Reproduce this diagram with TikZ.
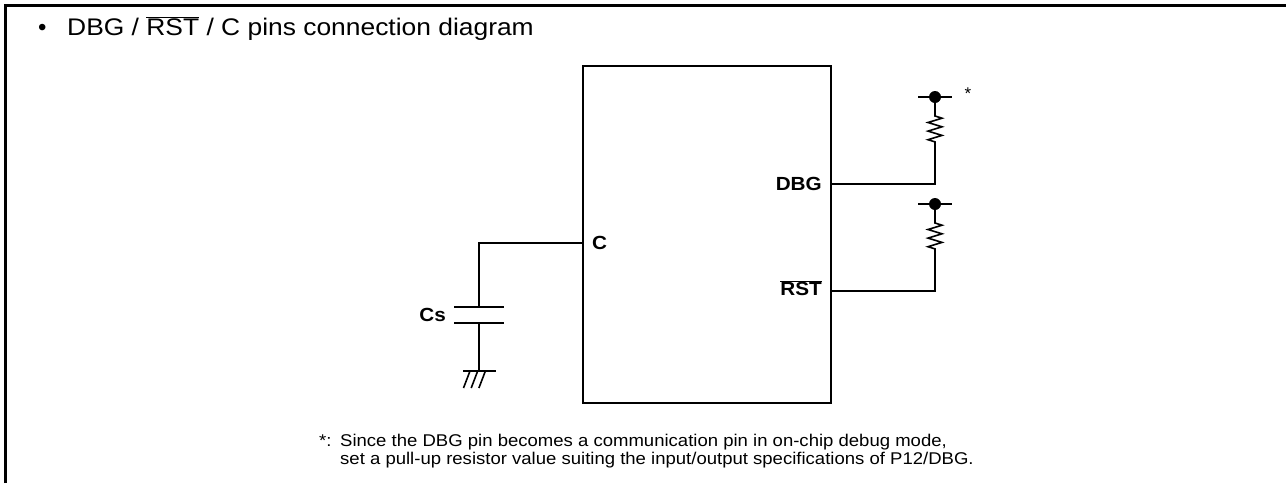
\documentclass[tikz,border=0pt]{standalone}
\usepackage{fontspec}
\usepackage{graphicx}
\setmainfont{Liberation Sans}
\newcommand{\wide}[1]{\scalebox{1.09}[1]{#1}}
\begin{document}
\begin{tikzpicture}[x=1pt,y=-1pt,
  wire/.style={line width=1.6pt},
  frame/.style={line width=2.5pt},
  lbl/.style={font=\fontsize{19}{22}\selectfont\bfseries, inner sep=0pt},
  note/.style={font=\fontsize{17}{19}\selectfont, inner sep=0pt, anchor=base west},
  pics/pullup/.style={code={
    \fill (0,0) circle (6);
    \draw[wire] (-17,0) -- (17,0);
    \draw[wire] (0,0) -- (0,19) -- ++(7,2.2) -- ++(-14,4.3) -- ++(14,4.3) -- ++(-14,4.3)
       -- ++(14,4.3) -- ++(-14,4.3) -- ++(7,2.2) -- (0,45);
    \coordinate (-bot) at (0,45);
  }}]
\useasboundingbox (0,0) rectangle (1286,483);
\draw[frame] (5.5,483) -- (5.5,5.5) -- (1286,5.5);
% title
\node[anchor=base west, inner sep=0pt, font=\fontsize{24}{28}\selectfont] (bul) at (38,35) {\textbullet};
\node[anchor=base west, inner sep=0pt, font=\fontsize{24}{28}\selectfont] (title) at (67,35) {\scalebox{1.1}[1]{DBG / $\overline{\mbox{RST}}$ / C pins connection diagram}};
% chip
\node[draw, wire, anchor=north west, minimum width=248pt, minimum height=337pt, inner sep=0pt, outer sep=0pt] (chip) at (583,66) {};
\coordinate (pC) at (583,243);
\coordinate (pDBG) at (831,184);
\coordinate (pRST) at (831,291);
\node[lbl, anchor=west] (lC) at (592,243) {\wide{C}};
\node[lbl, anchor=east] (lDBG) at (822,184) {\wide{DBG}};
\node[lbl, anchor=east] (lRST) at (822,288) {\wide{$\overline{\mbox{RST}}$}};
% capacitor
\coordinate (capT) at (479,307);
\coordinate (capB) at (479,323);
\coordinate (gnd) at (479,371);
\draw[wire] (pC) -| (capT);
\draw[wire] (454,307) -- (504,307);
\draw[wire] (454,323) -- (504,323);
\draw[wire] (capB) -- (gnd);
\draw[wire] (463,371) -- (496,371);
\foreach \i in {0,1,2} \draw[wire] (463.5+7.7*\i,388) -- (470+7.7*\i,371);
\node[lbl, anchor=east] (lCs) at (446,315) {\wide{Cs}};
% pull-ups
\pic (ra) at (935,97) {pullup};
\pic (rb) at (935,204) {pullup};
\draw[wire] (pDBG) -| (ra-bot);
\draw[wire] (pRST) -| (rb-bot);
\node[font=\fontsize{17}{19}\selectfont, inner sep=0pt] (star) at (968,94) {*};
% footnote
\node[note] (fstar) at (319,446) {\wide{*:}};
\node[note] (f1) at (340,446) {\wide{Since the DBG pin becomes a communication pin in on-chip debug mode,}};
\node[note] (f2) at (340,464.5) {\wide{set a pull-up resistor value suiting the input/output specifications of P12/DBG.}};
\end{tikzpicture}
\end{document}
